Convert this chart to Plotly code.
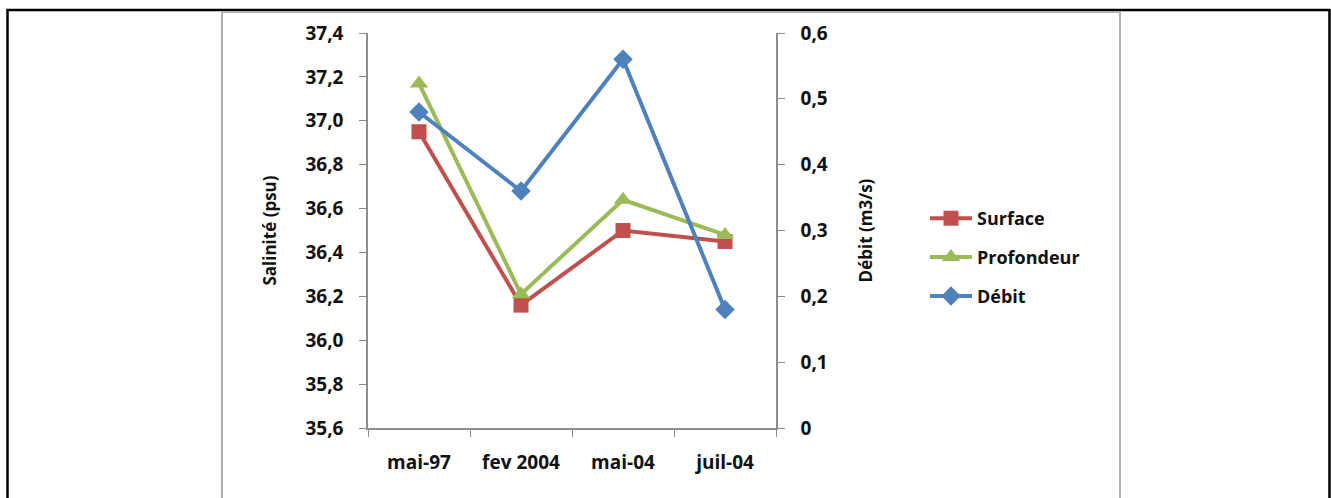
import plotly.graph_objects as go

categories = ["mai-97", "fev 2004", "mai-04", "juil-04"]
surface = [36.95, 36.16, 36.50, 36.45]
profondeur = [37.17, 36.21, 36.64, 36.48]
debit = [0.48, 0.36, 0.56, 0.18]

# pixel layout helpers (plot area)
L, R, T, B = 368, 776, 33, 428
W, H = 1331, 498
def px(x): return (x - L) / (R - L)
def py(y): return (B - y) / (B - T)

FONT = "Open Sans"
axis_col = "#8c8c8c"

fig = go.Figure()
fig.add_trace(go.Scatter(x=categories, y=surface, name="Surface", mode="lines+markers",
                         line=dict(color="#C0504D", width=4),
                         marker=dict(symbol="square", size=15, color="#C0504D"),
                         legendgroup="a"))
fig.add_trace(go.Scatter(x=categories, y=profondeur, name="Profondeur", mode="lines+markers",
                         line=dict(color="#9BBB59", width=4),
                         marker=dict(symbol="triangle-up", size=16, color="#9BBB59"),
                         legendgroup="b"))
fig.add_trace(go.Scatter(x=categories, y=debit, name="Débit", mode="lines+markers", yaxis="y2",
                         line=dict(color="#4F81BD", width=4),
                         marker=dict(symbol="diamond", size=15, color="#4F81BD"),
                         legendgroup="c"))

tickfont = dict(family=FONT, size=19, color="#111111", weight="bold")
titlefont = dict(family=FONT, size=17, color="#111111", weight="bold")

shapes = [
    # outer black frame
    dict(type="rect", xref="paper", yref="paper", x0=px(7.5), x1=px(1329.5), y0=py(505), y1=py(10),
         line=dict(color="black", width=2.5), layer="below"),
    # chart area gray frame
    dict(type="rect", xref="paper", yref="paper", x0=px(222), x1=px(1120), y0=py(505), y1=py(12),
         line=dict(color="#b0b0b0", width=2), layer="below"),
]

fig.update_layout(
    width=W, height=H,
    margin=dict(l=L, r=W - R, t=T, b=H - B, autoexpand=False),
    paper_bgcolor="white", plot_bgcolor="white",
    separators=", ",
    showlegend=True,
    legend=dict(x=px(925), y=py(200), xanchor="left", yanchor="top",
                font=dict(family=FONT, size=18, color="#111111", weight="bold"),
                tracegroupgap=12.5, itemwidth=42, bgcolor="rgba(0,0,0,0)"),
    xaxis=dict(type="category", showline=True, linecolor=axis_col, linewidth=1.5,
               ticks="outside", tickson="boundaries", ticklen=7, tickcolor=axis_col,
               tickfont=tickfont, ticklabelstandoff=16, showgrid=False, zeroline=False,
               range=[-0.5, 3.5], mirror=False),
    yaxis=dict(range=[35.6, 37.4], dtick=0.2, tick0=35.6, tickformat=".1f",
               showline=True, linecolor=axis_col, linewidth=1.5, ticks="outside",
               ticklen=7, tickcolor=axis_col, tickfont=tickfont, ticklabelstandoff=12,
               showgrid=False, zeroline=False,
               title=dict(text="Salinité (psu)", font=titlefont, standoff=24)),
    yaxis2=dict(range=[0, 0.6], dtick=0.1, tick0=0, overlaying="y", side="right",
                showline=True, linecolor=axis_col, linewidth=1.5, ticks="outside",
                ticklen=7, tickcolor=axis_col, tickfont=tickfont, ticklabelstandoff=12,
                showgrid=False, zeroline=False,
                title=dict(text="Débit (m3/s)", font=titlefont, standoff=33)),
    shapes=shapes,
)

fig.write_html("out.html")
